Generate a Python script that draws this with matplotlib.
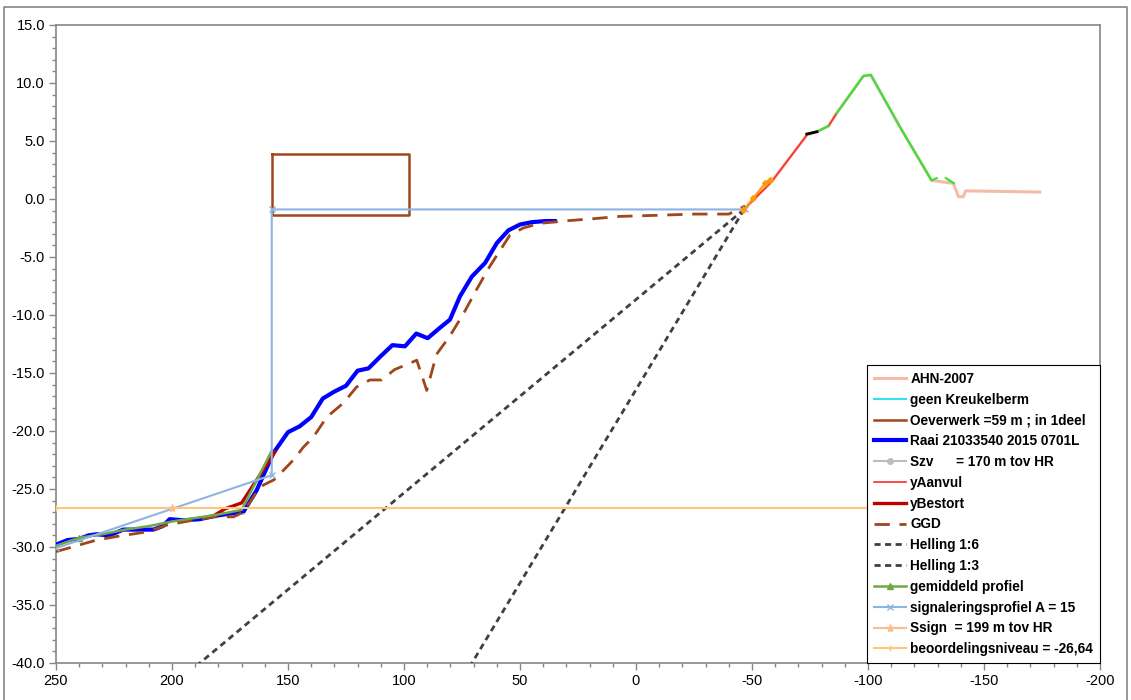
import numpy as np
import matplotlib
matplotlib.use("Agg")
import matplotlib.pyplot as plt
from matplotlib.lines import Line2D

plt.rcParams['font.family'] = ['Liberation Sans', 'DejaVu Sans']

# ---------------- data ----------------
raai_x = [250, 245, 240, 236, 232.5, 227, 221, 214, 208, 204, 201, 195, 188, 181, 171, 169,
          163.5, 156.3, 150, 145, 140, 135, 130, 125, 120, 115.3, 110.3, 105, 99.6, 94.7,
          89.8, 84.5, 80.2, 75.9, 70.8, 65, 60, 55, 50, 45, 39, 35]
raai_y = [-29.8, -29.4, -29.3, -29.0, -28.9, -29.0, -28.5, -28.5, -28.5, -28.2, -27.6, -27.7,
          -27.6, -27.3, -27.0, -26.9, -25.1, -21.9, -20.1, -19.6, -18.8, -17.2, -16.6, -16.1,
          -14.8, -14.6, -13.6, -12.6, -12.7, -11.6, -12.0, -11.1, -10.4, -8.4, -6.7, -5.5,
          -3.8, -2.7, -2.2, -2.0, -1.9, -1.9]

ggd_x = [250, 232.5, 224, 211, 202, 194, 182, 173.5, 169.3, 162, 156, 152, 147.7, 143.4, 139,
         133.3, 126.2, 120.4, 114.7, 109.7, 104, 98, 94.5, 90.2, 86, 80.2, 74.4, 68.7, 63,
         57.2, 54.3, 48.6, 41.4, 31.3, 18.4, 7, -10, -25, -40, -47]
ggd_y = [-30.4, -29.4, -29.1, -28.7, -28.1, -27.8, -27.4, -27.4, -27.0, -24.8, -24.2, -23.4,
         -22.5, -21.4, -20.5, -18.8, -17.6, -16.2, -15.6, -15.6, -14.7, -14.2, -13.9, -16.5,
         -13.4, -11.8, -9.9, -7.8, -5.8, -4.0, -3.1, -2.5, -2.1, -1.9, -1.7, -1.5, -1.4,
         -1.3, -1.3, -0.6]

ahn_x = [-47, -58.5, -73.6, -78, -83, -86.5, -98, -101.2, -113.8, -127.4, -136.8, -139,
         -141.1, -142.1, -174]
ahn_y = [-0.8, 1.5, 5.5, 5.8, 6.3, 7.4, 10.6, 10.7, 6.2, 1.6, 1.35, 0.2, 0.2, 0.7, 0.6]

aanvul_x = [-47, -58.5, -73.6, np.nan, -83, -86.5]
aanvul_y = [-0.8, 1.5, 5.5, np.nan, 6.3, 7.4]

dike_green_x = [-78, -83, np.nan, -86.5, -98, -101.2, -113.8, -127.4, -129.6, np.nan, -133.6, -137]
dike_green_y = [5.8, 6.3, np.nan, 7.4, 10.6, 10.7, 6.2, 1.6, 1.8, np.nan, 1.8, 1.35]

black_x = [-73.6, -78]
black_y = [5.6, 5.8]

orange_x = [-46.3, -50.6, -55.6, -57.8]
orange_y = [-0.95, 0.06, 1.35, 1.6]

bestort_x = [182, 177, 170, 155.6]
bestort_y = [-27.3, -26.7, -26.2, -21.8]

oever_x = [157, 98, 98, 157, 157]
oever_y = [3.9, 3.9, -1.35, -1.35, 3.9]

helling_start = (-46.6, -0.9)
helling_end_y = -45.0
helling6_ratio = 6
helling3_ratio = 3

gem_x = [250, 240, 230, 220, 210, 200, 190, 180, 170, 157]
gem_y = [-29.9, -29.2, -28.9, -28.5, -28.2, -27.8, -27.5, -27.2, -26.8, -21.7]

sign_x = [250, 157, 157, -47]
sign_y = [-30.1, -23.8, -0.9, -0.9]

szv_x = [170]
szv_y = [-26.9]

ssign_x = [200]
ssign_y = [-26.64]

beoord_level = -26.64
x_limits = (250, -200)
y_limits = (-40, 15)

# ---------------- figure ----------------
fig = plt.figure(figsize=(11.31, 7.00), dpi=100)
ax = fig.add_axes([56/1131, 1-663/700, (1100-56)/1131, (663-25)/700])

ax.plot(ahn_x, ahn_y, color='#F4BCA6', lw=2.2, label='AHN-2007', zorder=2)
ax.plot([], [], color='#33E0F0', lw=1.5, label='geen Kreukelberm')
ax.plot(oever_x, oever_y, color='#A0461A', lw=1.8, label='Oeverwerk =59 m ; in 1deel', zorder=3)
ax.plot(raai_x, raai_y, color='#0000FF', lw=3.0, label='Raai 21033540 2015 0701L', zorder=4)
ax.plot(szv_x, szv_y, color='#BDBDBD', lw=1.5, marker='o', ms=4, label='Szv      = 170 m tov HR', zorder=3)
ax.plot(aanvul_x, aanvul_y, color='#FF2A2A', lw=1.2, label='yAanvul', zorder=5)
ax.plot(bestort_x, bestort_y, color='#C00000', lw=2.4, label='yBestort', zorder=5)
ax.plot(ggd_x, ggd_y, color='#A0461A', lw=2.0, linestyle=(0, (5.5, 3.5)), label='GGD', zorder=5)

hx0, hy0 = helling_start
for ratio, lab in [(helling6_ratio, 'Helling 1:6'), (helling3_ratio, 'Helling 1:3')]:
    ax.plot([hx0, hx0 + ratio*(hy0 - helling_end_y)], [hy0, helling_end_y],
            color='#404040', lw=2.0, linestyle=(0, (2.2, 1.6)), label=lab, zorder=5)

ax.plot(gem_x, gem_y, color='#70A848', lw=1.8, marker='^', ms=4, markevery=[1],
        label='gemiddeld profiel', zorder=6)
ax.plot(sign_x, sign_y, color='#8DB4E2', lw=1.5, marker='x', ms=4, mew=1,
        label='signaleringsprofiel A = 15', zorder=6)
ax.plot(ssign_x, ssign_y, color='#FABF8F', lw=1.5, marker='*', ms=6,
        label='Ssign  = 199 m tov HR', zorder=7)
ax.plot(list(x_limits), [beoord_level, beoord_level], color='#FFC878', lw=1.5,
        marker='+', ms=5, label='beoordelingsniveau = -26,64', zorder=6)

# unlabeled extra series on the dike
ax.plot(dike_green_x, dike_green_y, color='#3BE03B', lw=1.6, zorder=5, label='_nolegend_')
ax.plot(black_x, black_y, color='black', lw=2.0, zorder=6, label='_nolegend_')
ax.plot(orange_x, orange_y, color='#FF9A10', lw=1.6, marker='D', ms=3, zorder=6, label='_nolegend_')

ax.set_xlim(*x_limits)
ax.set_ylim(*y_limits)
ax.set_xticks(np.arange(250, -201, -50))
ax.set_xticks(np.arange(250, -201, -10), minor=True)
ax.set_yticks(np.arange(-40, 15.1, 5))
ax.set_yticks(np.arange(-40, 15.1, 1), minor=True)
ax.set_yticklabels([f'{v:.1f}' for v in np.arange(-40, 15.1, 5)])
ax.set_xticklabels([f'{int(v)}' for v in np.arange(250, -201, -50)])
ax.tick_params(which='major', direction='out', length=5, width=1, color='#868686',
               labelsize=10.5, labelcolor='black', pad=3)
ax.tick_params(which='minor', direction='out', length=3, width=1, color='#868686')
for s in ax.spines.values():
    s.set_color('#868686')
    s.set_linewidth(1.2)

leg = ax.legend(loc='lower right', borderaxespad=0, fancybox=False, framealpha=1,
                edgecolor='black', prop={'weight': 'bold', 'size': 9.8},
                handlelength=2.35, handletextpad=0.3, labelspacing=0.5,
                borderpad=0.5)
leg.get_frame().set_linewidth(0.8)
leg.set_zorder(20)

# outer chart border
fig.add_artist(Line2D([4/1131, 4/1131, 1127/1131, 1127/1131], [0, 1-7/700, 1-7/700, 0],
                      transform=fig.transFigure, color='#868686', lw=1.2))

fig.savefig('out.png', dpi=100)
